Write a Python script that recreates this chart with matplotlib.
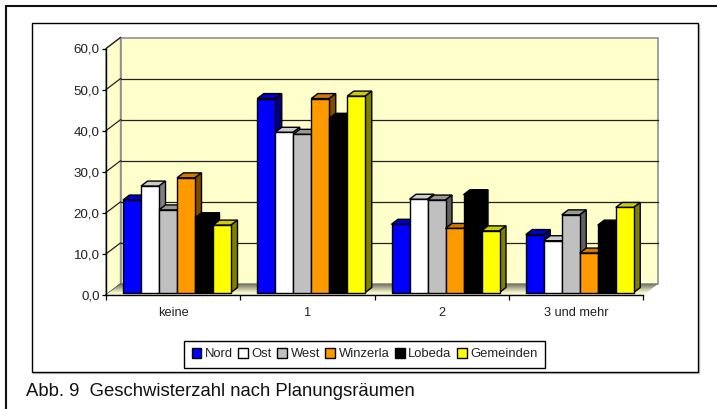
import matplotlib
matplotlib.use("Agg")
import matplotlib.pyplot as plt
from matplotlib.patches import Polygon, Rectangle, Patch
from matplotlib.transforms import Affine2D, IdentityTransform
from matplotlib.colors import to_rgb
import numpy as np

plt.rcParams['font.family'] = ['Liberation Sans', 'DejaVu Sans']

categories = ["keine", "1", "2", "3 und mehr"]
series_names = ["Nord", "Ost", "West", "Winzerla", "Lobeda", "Gemeinden"]
nord = [22.5, 47.2, 16.6, 14.1]
ost = [25.9, 39.0, 22.7, 12.6]
west = [20.1, 38.5, 22.5, 18.9]
winzerla = [27.9, 47.2, 15.6, 9.6]
lobeda = [18.2, 42.4, 23.8, 16.4]
gemeinden = [16.4, 47.8, 15.0, 20.7]
series_values = [nord, ost, west, winzerla, lobeda, gemeinden]
front_colors = ["#0000FF", "#FFFFFF", "#C0C0C0", "#FF9900", "#000000", "#FFFF00"]
top_colors = ["#0000CC", "#CCCCCC", "#999999", "#CC7A00", "#000000", "#CCCC00"]
side_colors = ["#00007F", "#7F7F7F", "#606060", "#7F4C00", "#000000", "#7F7F00"]
y_ticks = [0, 10, 20, 30, 40, 50, 60]
y_labels = ["0,0", "10,0", "20,0", "30,0", "40,0", "50,0", "60,0"]
caption = "Abb. 9  Geschwisterzahl nach Planungsräumen"

W, H = 717, 409
fig = plt.figure(figsize=(W / 100, H / 100), dpi=100, facecolor="white")
L, R, B, T = 106, 643, 295, 48.5
ax = fig.add_axes([L / W, (H - B) / H, (R - L) / W, (B - T) / H])
ax.set_xlim(0, 4)
ax.set_ylim(0, 60)
ax.patch.set_visible(False)
ident = IdentityTransform()


def px(x, y):
    return (x, H - y)


# outer frames (below the axes)
fig.add_artist(Polygon([px(5.5, 412), px(5.5, 6), px(720, 6)], closed=False, fill=False,
                       ec="#111111", lw=1.5, transform=ident, zorder=-3))
fig.add_artist(Polygon([px(32, 373), px(698.5, 373), px(698.5, 24)], closed=False, fill=False,
                       ec="#C8C8C8", lw=1.0, transform=ident, zorder=-3))
fig.add_artist(Rectangle(px(31.5, 372), 666, 349, fc="white", ec="black", lw=1.0,
                         transform=ident, zorder=-2))

DX, DY = 14.5, 11.0
BDX, BDY = 6.5, 5.0
FY = 2.5


def pt(x, y, dx=0.0, dy=0.0):
    p = ax.transData.transform((x, y))
    return (p[0] + dx, p[1] + dy)


wall = "#FFFFCC"
z = 1
ax.add_patch(Polygon([pt(0, 0, DX, DY), pt(4, 0, DX, DY), pt(4, 60, DX, DY), pt(0, 60, DX, DY)],
                     fc=wall, ec="#909090", lw=1.2, transform=ident, zorder=z, clip_on=False))
ax.add_patch(Polygon([pt(0, 0), pt(0, 0, DX, DY), pt(0, 60, DX, DY), pt(0, 60)],
                     fc=wall, ec="#909090", lw=1.0, transform=ident, zorder=z, clip_on=False))
for v in y_ticks[1:-1]:
    ax.plot(*zip(pt(0, v, DX, DY), pt(4, v, DX, DY)), color="#222222", lw=0.9, transform=ident,
            zorder=z + 0.1, clip_on=False)
for v in y_ticks:
    ax.plot(*zip(pt(0, v), pt(0, v, DX, DY)), color="#222222", lw=0.9, transform=ident,
            zorder=z + 0.1, clip_on=False)

# floor: shaded from the back wall to the front edge
n_strip = 11
dark, light = np.array(to_rgb("#77776A")), np.array(to_rgb("#F5F5C8"))
for i in range(n_strip):
    f0, f1 = i / n_strip, (i + 1) / n_strip
    t = min(1.0, (i / (n_strip - 1)) * 1.25)
    col = tuple(dark + (light - dark) * t)
    ax.add_patch(Polygon([pt(0, 0, DX * (1 - f0), DY * (1 - f0)), pt(4, 0, DX * (1 - f0), DY * (1 - f0)),
                          pt(4, 0, DX * (1 - f1), DY * (1 - f1)), pt(0, 0, DX * (1 - f1), DY * (1 - f1))],
                         fc=col, ec=col, lw=0.2, transform=ident, zorder=z + 0.2, clip_on=False))

# bars
cat_w = (R - L) / 4
bar_w = 18.0 / cat_w
start = 17.0 / cat_w
bar_tr = ax.transData + Affine2D().translate(0, FY)
zb = 3
for si, vals in enumerate(series_values):
    for ci, v in enumerate(vals):
        x0 = ci + start + si * bar_w
        x1 = x0 + bar_w
        a, b = pt(x0, v, 0, FY), pt(x1, v, 0, FY)
        c = pt(x1, 0, 0, FY)
        zz = zb + si * 0.1
        ax.add_patch(Polygon([a, (a[0] + BDX, a[1] + BDY), (b[0] + BDX, b[1] + BDY), b],
                             fc=top_colors[si], ec="black", lw=1.0, transform=ident, zorder=zz))
        ax.add_patch(Polygon([b, (b[0] + BDX, b[1] + BDY), (c[0] + BDX, c[1] + BDY), c],
                             fc=side_colors[si], ec="black", lw=1.0, transform=ident, zorder=zz))
    xs = [ci + start + (si + 0.5) * bar_w for ci in range(4)]
    ax.bar(xs, vals, width=bar_w, color=front_colors[si], edgecolor="black", linewidth=1.0,
           transform=bar_tr, zorder=zb + si * 0.1 + 0.05, clip_on=False)

# axes
for s in ("top", "right"):
    ax.spines[s].set_visible(False)
ax.spines["left"].set_color("black")
ax.spines["bottom"].set_color("black")
ax.spines["left"].set_linewidth(1.0)
ax.spines["bottom"].set_linewidth(1.0)
ax.set_yticks(y_ticks)
ax.set_yticklabels(y_labels, fontsize=9.6, color="#222222")
ax.set_xticks(range(5))
ax.set_xticklabels([])
ax.set_xticks([i + 0.5 for i in range(4)], minor=True)
ax.set_xticklabels(categories, minor=True, fontsize=9.2, color="#222222")
ax.tick_params(axis="y", length=3, width=0.9, pad=1.5)
ax.tick_params(axis="x", which="major", length=3.5, width=0.9)
ax.tick_params(axis="x", which="minor", length=0, pad=9)

# legend
handles = [Patch(fc=c, ec="black", lw=1.0) for c in front_colors]
leg = fig.legend(handles, series_names, ncol=6, loc="center",
                 bbox_to_anchor=(364.5 / W, (H - 354.3) / H), fontsize=9.4,
                 frameon=True, fancybox=False, edgecolor="black", framealpha=1,
                 handlelength=0.76, handleheight=0.76, handletextpad=0.25, columnspacing=0.42,
                 borderpad=0.55, borderaxespad=0, labelcolor="#222222")
leg.get_frame().set_linewidth(1.0)

fig.text(26 / W, (H - 396) / H, caption, fontsize=13.35, color="#111111", ha="left", va="baseline")

fig.savefig("out.png", dpi=100, facecolor="white")
